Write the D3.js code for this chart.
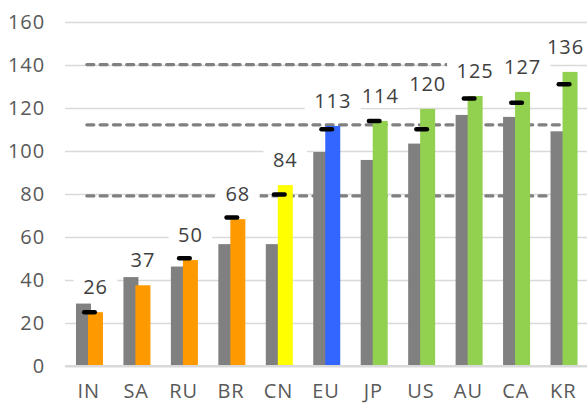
<!DOCTYPE html>
<html>
<head>
<meta charset="utf-8">
<script src="https://cdn.jsdelivr.net/npm/d3@7"></script>
<style>
  html, body { margin: 0; padding: 0; background: #fff; }
  svg text { font-family: "Open Sans", sans-serif; letter-spacing: 0.9px; }
</style>
</head>
<body>
<div id="chart"></div>
<script>
// chart values
var categories = ['IN', 'SA', 'RU', 'BR', 'CN', 'EU', 'JP', 'US', 'AU', 'CA', 'KR']
var grayValues = [29, 41.3, 46.2, 56.6, 56.6, 99.4, 95.7, 103.3, 116.6, 115.7, 109]
var mainValues = [25, 37.5, 49.2, 68.2, 84, 111.5, 113.8, 119.4, 125.4, 127.3, 136.6]
var mainLabels = ['26', '37', '50', '68', '84', '113', '114', '120', '125', '127', '136']
var markerValues = [25, null, 50, 69, 79.6, 110, 113.8, 110, 124.2, 122.3, 130.9]
var mainColors = ['#FF9900', '#FF9900', '#FF9900', '#FF9900', '#FFFF00', '#3366FF',
                  '#92D050', '#92D050', '#92D050', '#92D050', '#92D050']
var yTicks = [0, 20, 40, 60, 80, 100, 120, 140, 160]
// reference levels: value, and start / end as position in category units
var refValues = [140, 112, 79]
var refStart = [0.46, 0.46, 0.46]
var refEnd = [8.07, 10.47, 10.17]

var width = 587, height = 403
var margin = {top: 21.5, right: 0, bottom: 37, left: 65}

var svg = d3.select('#chart').append('svg')
  .attr('width', width)
  .attr('height', height)

var x = d3.scaleBand()
  .domain(categories)
  .range([margin.left, width - margin.right])
  .padding(0)

var y = d3.scaleLinear()
  .domain([0, 160])
  .range([height - margin.bottom, margin.top])

var bw = x.bandwidth()
var barW = 15
function groupCenter(c) { return x(c) + bw / 2 + 0.75 }

// position along x in category units (0 = left edge of first band)
var xUnits = d3.scaleLinear().domain([0, categories.length]).range(x.range())

// gridlines
svg.append('g')
  .selectAll('line')
  .data(yTicks)
  .enter().append('line')
    .attr('x1', margin.left)
    .attr('x2', width - margin.right)
    .attr('y1', function(d) { return Math.round(y(d)) + 0.5 })
    .attr('y2', function(d) { return Math.round(y(d)) + 0.5 })
    .attr('stroke', '#D9D9D9')
    .attr('stroke-width', function(d) { return d === 0 ? 2 : 1.5 })

// y tick labels
svg.append('g')
  .selectAll('text')
  .data(yTicks)
  .enter().append('text')
    .attr('x', margin.left - 20)
    .attr('y', function(d) { return y(d) + 7 })
    .attr('text-anchor', 'end')
    .attr('font-size', 20)
    .attr('fill', '#595959')
    .text(function(d) { return d })

// dashed reference lines
svg.append('g')
  .selectAll('line')
  .data(refValues)
  .enter().append('line')
    .attr('x1', function(d, i) { return xUnits(refStart[i]) })
    .attr('x2', function(d, i) { return xUnits(refEnd[i]) })
    .attr('y1', function(d) { return y(d) })
    .attr('y2', function(d) { return y(d) })
    .attr('stroke', '#808080')
    .attr('stroke-width', 3.2)
    .attr('stroke-linecap', 'round')
    .attr('stroke-dasharray', '7,6.3')

// gray bars
svg.append('g')
  .selectAll('rect')
  .data(grayValues)
  .enter().append('rect')
    .attr('x', function(d, i) { return groupCenter(categories[i]) - 13.5 })
    .attr('y', function(d) { return y(d) })
    .attr('width', barW)
    .attr('height', function(d) { return y(0) - y(d) + 1 })
    .attr('fill', '#808080')

// coloured bars
svg.append('g')
  .selectAll('rect')
  .data(mainValues)
  .enter().append('rect')
    .attr('x', function(d, i) { return groupCenter(categories[i]) - 1.5 })
    .attr('y', function(d) { return y(d) })
    .attr('width', barW)
    .attr('height', function(d) { return y(0) - y(d) + 1 })
    .attr('fill', function(d, i) { return mainColors[i] })

// axis line
svg.append('line')
  .attr('x1', margin.left)
  .attr('x2', width - margin.right)
  .attr('y1', y(0))
  .attr('y2', y(0))
  .attr('stroke', '#D9D9D9')
  .attr('stroke-width', 2)

// black markers
svg.append('g')
  .selectAll('line')
  .data(markerValues.map(function(v, i) { return {v: v, c: categories[i]} })
    .filter(function(d) { return d.v !== null }))
  .enter().append('line')
    .attr('x1', function(d) { return groupCenter(d.c) - 5.3 })
    .attr('x2', function(d) { return groupCenter(d.c) + 5.3 })
    .attr('y1', function(d) { return y(d.v) })
    .attr('y2', function(d) { return y(d.v) })
    .attr('stroke', '#000')
    .attr('stroke-width', 4.5)
    .attr('stroke-linecap', 'round')

// data labels with white boxes, kept inside the right edge
var labels = svg.append('g')
  .selectAll('g')
  .data(mainValues)
  .enter().append('g')

labels.each(function(d, i) {
  var g = d3.select(this)
  var box = g.append('rect')
    .attr('y', -19)
    .attr('height', 24)
    .attr('fill', '#fff')
  var t = g.append('text')
    .attr('text-anchor', 'middle')
    .attr('font-size', 20)
    .attr('fill', '#404040')
    .text(mainLabels[i])
  var tw = t.node().getComputedTextLength()
  box.attr('x', -tw / 2 - 9.5).attr('width', tw + 19)
  var cx = Math.min(groupCenter(categories[i]) + 6, width - tw / 2 - 3)
  g.attr('transform', 'translate(' + cx + ',' + (y(d) - 18) + ')')
})

// x category labels
svg.append('g')
  .selectAll('text')
  .data(categories)
  .enter().append('text')
    .attr('x', function(d) { return x(d) + bw / 2 })
    .attr('y', height - 5)
    .attr('text-anchor', 'middle')
    .attr('font-size', 20)
    .attr('fill', '#595959')
    .text(function(d) { return d })
</script>
</body>
</html>
